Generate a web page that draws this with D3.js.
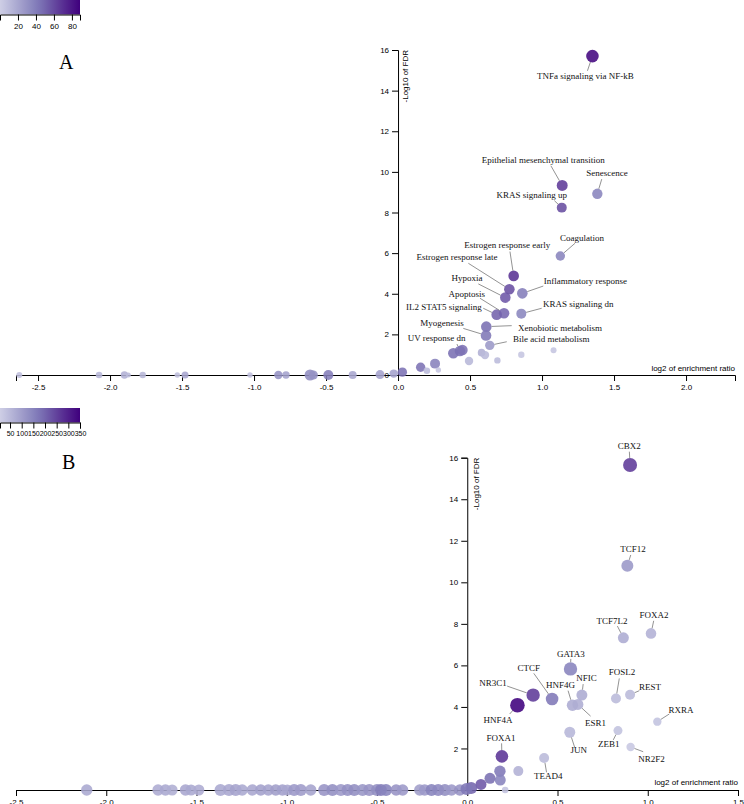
<!DOCTYPE html>
<html><head><meta charset="utf-8">
<script src="https://cdn.jsdelivr.net/npm/d3@7"></script>
<style>
body{margin:0;background:#fff}
svg{display:block}
</style></head><body>
<svg id="chart" width="744" height="804"></svg>
<script>
// ---------- Panel A data (Hallmark gene sets) ----------
const aNames = ["TNFa signaling via NF-kB","Epithelial mesenchymal transition","Senescence","KRAS signaling up","Coagulation",
  "Estrogen response early","Estrogen response late","Hypoxia","Inflammatory response","Apoptosis","IL2 STAT5 signaling",
  "KRAS signaling dn","Xenobiotic metabolism","Myogenesis","Bile acid metabolism","UV response dn",
  "","","","","","","","","","","","","","","",
  "","","","","","","","","","","","","",""];
const aLog2ER = [1.35,1.14,1.384,1.137,1.127,0.803,0.773,0.745,0.863,0.736,0.685,0.856,0.613,0.611,0.637,0.43,
  0.384,0.447,0.58,0.604,0.493,0.69,0.856,1.08,0.157,0.2,0.257,0.28,0.03,-0.03,-0.125,
  -2.63,-2.076,-1.90,-1.873,-1.773,-1.533,-1.479,-1.028,-0.831,-0.778,-0.611,-0.588,-0.484,-0.315];
const aNegLogFDR = [15.7,9.33,8.92,8.24,5.86,4.88,4.22,3.81,4.02,3.04,2.97,3.02,2.38,1.95,1.46,1.18,
  1.07,1.23,1.1,0.98,0.69,0.72,1.0,1.22,0.38,0.21,0.56,0.25,0.14,0.07,0.02,
  0,0,0,0,0,0,0,0,0,0,0,0,0,0];
const aOverlap = [86,66,37,59,37,69,58,55,40,49,51,36,46,43,27,44,
  46,45,16,11,12,10,5,5,45,10,38,5,45,22,22,
  8,12,15,10,12,8,20,8,30,22,32,30,40,20];
const aSetSize = [162,123,110,102,90,115,115,115,115,115,115,102,115,115,90,115,
  115,115,59,72,72,42,42,37,90,45,102,30,90,72,83,
  37,45,56,26,42,30,50,30,72,56,123,83,102,65];
const aLegendTicks = [20,40,60,80];
const aXTicks = [-2.5,-2.0,-1.5,-1.0,-0.5,0.0,0.5,1.0,1.5,2.0];

// ---------- Panel B data (transcription factor targets) ----------
const bNames = ["CBX2","TCF12","TCF7L2","FOXA2","GATA3","CTCF","NR3C1","HNF4A","HNF4G","NFIC","ESR1","FOSL2","REST",
  "RXRA","JUN","ZEB1","NR2F2","FOXA1","TEAD4",
  "","","","","","","",
  "","","","","","","","","","","","","","","","","","","","","","","","","","","","","","","","","","","","","","","","","",""];
const bLog2ER = [0.902,0.887,0.865,1.018,0.572,0.47,0.365,0.278,0.583,0.635,0.613,0.824,0.902,1.053,0.568,0.835,0.905,0.192,0.426,
  0.181,0.283,0.183,0.126,0.076,0.022,0.21,
  -2.108,-1.713,-1.672,-1.635,-1.561,-1.53,-1.487,-1.367,-1.32,-1.283,-1.247,-1.191,-1.144,-1.102,-1.061,-1.024,
  -0.997,-0.959,-0.922,-0.867,-0.793,-0.747,-0.70,-0.663,-0.626,-0.58,-0.543,-0.50,-0.478,-0.45,-0.394,-0.358,
  -0.263,-0.236,-0.198,-0.161,-0.124,-0.087,-0.041,-0.004];
const bNegLogFDR = [15.65,10.8,7.33,7.54,5.83,4.38,4.57,4.08,4.08,4.57,4.12,4.41,4.59,3.29,2.78,2.86,2.07,1.62,1.54,
  0.9,0.91,0.48,0.56,0.27,0.1,0,
  0,0,0,0,0,0,0,0,0,0,0,0,0,0,0,0,
  0,0,0,0,0,0,0,0,0,0,0,0,0,0,0,0,
  0,0,0,0,0,0,0,0.05];
const bOverlap = [261,113,76,65,151,172,261,350,76,76,72,48,48,31,55,35,22,271,48,
  172,65,151,185,220,200,30,
  80,75,80,70,85,80,75,80,85,90,80,85,95,90,100,95,
  85,110,105,90,120,130,110,125,130,115,120,130,160,150,120,110,
  100,110,150,140,130,110,120,170];
const bSetSize = [871,640,538,500,798,706,798,947,578,538,538,444,444,314,538,360,314,706,444,
  578,444,538,538,538,640,194,
  578,578,578,538,578,538,538,640,640,640,578,578,578,578,578,578,
  538,640,640,578,640,640,640,640,640,640,640,640,640,640,578,578,
  578,578,640,640,640,578,578,640];
const bLegendTicks = [50,100,150,200,250,300,350];
const bXTicks = [-2.5,-2.0,-1.5,-1.0,-0.5,0.0,0.5,1.0,1.5];

// ---------- label layout (text offset dx,dy ; leader attach dx,dy) ----------
const aLabelLayout = {
  "TNFa signaling via NF-kB":[-7,23,-5,14.7],
  "Epithelial mesenchymal transition":[-19,-22.4,-11.3,-19.7],
  "Senescence":[9.7,-18,4.4,-14.7],
  "KRAS signaling up":[-30,-9.4,-7.4,-7],
  "Coagulation":[21.7,-15.3,14.7,-12.7],
  "Estrogen response early":[-6.4,-27.7,-3.7,-24.3],
  "Estrogen response late":[-52.3,-29.3,-41,-26],
  "Hypoxia":[-38.3,-17,-27,-13.7],
  "Inflammatory response":[63,-9,21,-7.3],
  "Apoptosis":[-37.3,-16.6,-24,-15],
  "IL2 STAT5 signaling":[-52.7,-4.7,-13.4,-6.4],
  "KRAS signaling dn":[57,-7,20.4,-5.4],
  "Xenobiotic metabolism":[73.7,4.3,25.4,-1],
  "Myogenesis":[-44,-9.6,-22.7,-7],
  "Bile acid metabolism":[61.6,-3,17,-3.6],
  "UV response dn":[-23.3,-10,-3,-7]
};
const bLabelLayout = {
  "CBX2":[-0.7,-16.3,-0.7,-13.3],
  "TCF12":[5.7,-14,3.4,-10.7],
  "TCF7L2":[-11.3,-13.4,-6,-11.7],
  "FOXA2":[3,-15,2.7,-12.6],
  "GATA3":[0.3,-12.3,0.3,-10],
  "CTCF":[-23.3,-28,-18.3,-25.7],
  "NR3C1":[-40,-9.3,-26,-9],
  "HNF4A":[-19.4,18,-7.7,8.7],
  "HNF4G":[-12,-17.6,-4.4,-14.6],
  "NFIC":[4.7,-14,1.3,-11],
  "ESR1":[17.7,21.4,12.7,11.7],
  "FOSL2":[6,-23,3.3,-20],
  "REST":[20,-4.7,9.3,-4],
  "RXRA":[23.7,-9,12,-7.7],
  "JUN":[9,21,5,15.4],
  "ZEB1":[-9.3,16.6,-4.7,9.3],
  "NR2F2":[21,15.3,12.6,4.7],
  "FOXA1":[-1,-15.3,-0.3,-13],
  "TEAD4":[4,21.3,2.4,14.3]
};

const svg = d3.select("#chart");
const SANS = "'Liberation Sans', Arial, Helvetica, sans-serif";
const SERIF = "'Liberation Serif', 'Times New Roman', Times, serif";

function drawPanel(cfg){
  const x = d3.scaleLinear().domain(cfg.xDomain).range(cfg.xRange);
  const y = d3.scaleLinear().domain([0,16]).range(cfg.yRange);
  const color = d3.scaleSequential(t => d3.interpolatePurples(0.3 + 0.7*t)).domain(cfg.colorDomain);
  const rad = d3.scaleSqrt().domain([0,cfg.sizeMax]).range([0,cfg.rMax]);

  // colour legend
  const lg = svg.append("g").attr("transform",`translate(0,${cfg.legendY})`);
  const grad = svg.append("defs").append("linearGradient").attr("id",cfg.id+"grad");
  d3.range(0,1.0001,0.05).forEach(t=>{
    grad.append("stop").attr("offset",t).attr("stop-color",color(cfg.colorDomain[0]+t*(cfg.colorDomain[1]-cfg.colorDomain[0])));
  });
  lg.append("rect").attr("width",80).attr("height",14.5).attr("fill",`url(#${cfg.id}grad)`);
  const ls = d3.scaleLinear().domain(cfg.colorDomain).range([0,80]);
  lg.append("g").attr("transform","translate(0,14.5)")
    .call(d3.axisBottom(ls).tickValues(cfg.legendTicks).tickFormat(d=>String(d)))
    .attr("font-size",cfg.legendFont).attr("font-family",SANS);

  const g = svg.append("g");
  // axes
  g.append("g").attr("transform",`translate(0,${y(0)})`)
    .call(d3.axisBottom(x).tickValues(cfg.xTicks).tickFormat(d=>d.toFixed(1)))
    .attr("font-size",8).attr("font-family",SANS);
  g.append("g").attr("transform",`translate(${x(0)},0)`)
    .call(d3.axisLeft(y).tickValues(d3.range(0,17,2)).tickFormat(d=>String(d)))
    .attr("font-size",8).attr("font-family",SANS);

  g.append("text").attr("transform",`translate(${x(0)+cfg.yLabelDx},${y(16)}) rotate(-90)`)
    .attr("text-anchor","end").attr("font-size",8).attr("font-family",SANS).text("-Log10 of FDR");
  g.append("text").attr("x",cfg.xRange[1]).attr("y",y(0)-cfg.xLabelDy)
    .attr("text-anchor","end").attr("font-size",8).attr("font-family",SANS).text("log2 of enrichment ratio");

  const pts = cfg.names.map((n,i)=>({name:n, er:cfg.er[i], fdr:cfg.fdr[i], ov:cfg.ov[i], sz:cfg.sz[i]}));
  g.append("g").selectAll("circle").data(pts).join("circle")
    .attr("cx",d=>x(d.er)).attr("cy",d=>y(d.fdr)).attr("r",d=>rad(d.sz))
    .attr("fill",d=>color(d.ov)).attr("fill-opacity",0.88);

  const lab = pts.filter(d=>cfg.layout[d.name]);
  const lg2 = g.append("g");
  lab.forEach(d=>{
    const [tdx,tdy,adx,ady] = cfg.layout[d.name];
    const px = x(d.er), py = y(d.fdr), rr = rad(d.sz);
    const dist = Math.hypot(adx,ady);
    if (dist > rr+0.5){
      lg2.append("line").attr("x1",px+adx/dist*rr).attr("y1",py+ady/dist*rr)
        .attr("x2",px+adx).attr("y2",py+ady).attr("stroke","#777").attr("stroke-width",0.8);
    }
    lg2.append("text").attr("x",px+tdx).attr("y",py+tdy).attr("text-anchor","middle")
      .attr("font-size",9).attr("font-family",SERIF).attr("fill","#111").text(d.name);
  });

  svg.append("text").attr("x",cfg.letterPos[0]).attr("y",cfg.letterPos[1])
    .attr("font-size",20).attr("font-family",SERIF).text(cfg.letter);
}

drawPanel({id:"a", names:aNames, er:aLog2ER, fdr:aNegLogFDR, ov:aOverlap, sz:aSetSize,
  xDomain:[-2.653,2.34], xRange:[16,735], yRange:[375,50], colorDomain:[0,89], legendTicks:aLegendTicks,
  xTicks:aXTicks, sizeMax:200, rMax:7, legendY:0, legendFont:8, yLabelDx:10, xLabelDy:4.5, layout:aLabelLayout,
  letter:"A", letterPos:[59,69]});
drawPanel({id:"b", names:bNames, er:bLog2ER, fdr:bNegLogFDR, ov:bOverlap, sz:bSetSize,
  xDomain:[-2.5,1.5], xRange:[16,738], yRange:[790,457.7], colorDomain:[7,350], legendTicks:bLegendTicks,
  xTicks:bXTicks, sizeMax:1000, rMax:7.5, legendY:408, legendFont:7, yLabelDx:11.5, xLabelDy:5, layout:bLabelLayout,
  letter:"B", letterPos:[62,469]});
</script>
</body></html>
